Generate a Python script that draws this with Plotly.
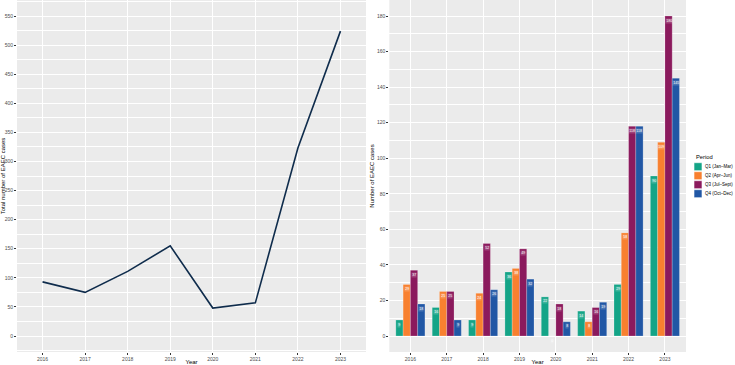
import plotly.graph_objects as go

years = ["2016", "2017", "2018", "2019", "2020", "2021", "2022", "2023"]
q1 = [9, 16, 9, 36, 22, 14, 29, 90]
q2 = [29, 25, 24, 38, 0, 8, 58, 109]
q3 = [37, 25, 52, 49, 18, 16, 118, 180]
q4 = [18, 9, 26, 32, 8, 19, 118, 145]
totals = [a + b + c + d for a, b, c, d in zip(q1, q2, q3, q4)]
period_names = ["Q1 (Jan\u2013Mar)", "Q2 (Apr\u2013Jun)", "Q3 (Jul\u2013Sept)", "Q4 (Oct\u2013Dec)"]
period_colors = ["#14A487", "#F8802F", "#8B1A5D", "#2157A5"]
line_color = "#0F2C4C"

W, H = 735, 365
fig = go.Figure()

xs = list(range(len(years)))
fig.add_trace(go.Scatter(x=xs, y=totals, mode="lines",
                         line=dict(color=line_color, width=1.6),
                         showlegend=False, xaxis="x", yaxis="y"))

series = [q1, q2, q3, q4]
bw = 0.2
for k, (vals, name, col) in enumerate(zip(series, period_names, period_colors)):
    fig.add_trace(go.Bar(x=xs, y=vals, name=name, marker=dict(color=col,
                         line=dict(color="rgba(255,255,255,0.35)", width=0.6)),
                         width=bw, offset=(k - 2) * bw, showlegend=False,
                         xaxis="x2", yaxis="y2"))
    for i, v in enumerate(vals):
        fig.add_annotation(x=i + (k - 1.5) * bw, y=v, xref="x2", yref="y2",
                           text=str(v), showarrow=False, yanchor="top", yshift=-1.5,
                           font=dict(size=3.6, color="white", family="Liberation Sans"),
                           bgcolor="rgba(255,255,255,0.18)", borderpad=0.2)

# custom legend (compact, ggplot-like)
leg_x0, leg_y0, step = 694, 162.5, 9
fig.add_annotation(x=leg_x0 / W, y=1 - 157 / H, xref="paper", yref="paper",
                   text="Period", showarrow=False, xanchor="left", yanchor="middle",
                   font=dict(size=5.8, color="black", family="Liberation Sans"))
for k, (name, col) in enumerate(zip(period_names, period_colors)):
    yc = leg_y0 + 4.2 + k * step
    fig.add_shape(type="rect", xref="paper", yref="paper",
                  x0=leg_x0 / W, x1=(leg_x0 + 8) / W,
                  y0=1 - (yc - 4) / H, y1=1 - (yc + 4) / H,
                  fillcolor=col, line=dict(color="white", width=0.6))
    fig.add_annotation(x=(leg_x0 + 9.5) / W, y=1 - yc / H, xref="paper", yref="paper",
                       text=name, showarrow=False, xanchor="left", yanchor="middle",
                       borderpad=0,
                       font=dict(size=4.5, color="black", family="Liberation Sans"))

grid = "white"
tickfont = dict(size=5, color="#4D4D4D", family="Liberation Sans")
titlefont = dict(size=6, color="black", family="Liberation Sans")

ax_common = dict(showgrid=True, gridcolor=grid, gridwidth=0.9, zeroline=False,
                 ticks="outside", ticklen=2, tickcolor="#333333", tickwidth=0.6,
                 tickfont=tickfont, showline=False, automargin=False)

fig.update_layout(
    width=W, height=H, margin=dict(l=0, r=0, t=0, b=0),
    paper_bgcolor="white", plot_bgcolor="#EBEBEB",
    barmode="overlay", showlegend=False,
    xaxis=dict(domain=[17 / W, 366 / W], range=[-0.6, 7.6], tickvals=xs, ticktext=years,
               title=dict(text="Year", font=titlefont, standoff=1), **ax_common),
    yaxis=dict(domain=[13 / H, 1], range=[-27.5, 577.5], tickvals=list(range(0, 551, 50)),
               title=dict(text="Total number of EAEC cases", font=titlefont, standoff=1),
               minor=dict(showgrid=True, gridcolor=grid, gridwidth=0.4, dtick=25, tick0=25),
               **ax_common),
    xaxis2=dict(domain=[389.3 / W, 686 / W], range=[-0.58, 7.58], tickvals=xs, ticktext=years,
                anchor="y2",
                title=dict(text="Year", font=titlefont, standoff=1), **ax_common),
    yaxis2=dict(domain=[13 / H, 1], range=[-9, 189], tickvals=list(range(0, 181, 20)),
                anchor="x2",
                title=dict(text="Number of EAEC cases", font=titlefont, standoff=1),
                minor=dict(showgrid=True, gridcolor=grid, gridwidth=0.4, dtick=10, tick0=10),
                **ax_common),
)

fig.write_html("out.html")
